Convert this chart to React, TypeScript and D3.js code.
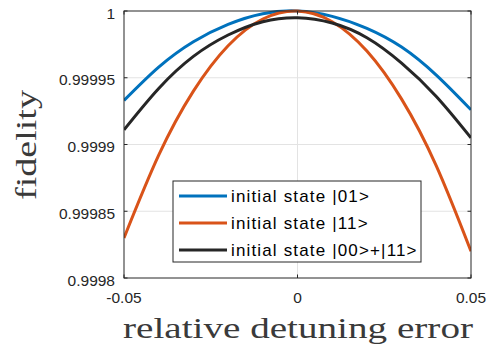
import React from 'react';
import * as d3 from 'd3';

// relative detuning error (x) and fidelity of each initial state
const detuning = [-0.05, -0.04, -0.03, -0.02, -0.01, 0, 0.01, 0.02, 0.03, 0.04, 0.05];
const fid01 = [0.999933, 0.999958, 0.999977, 0.99999, 0.999998, 1.0, 0.999996, 0.999987, 0.999973, 0.999952, 0.999926];
const fid11 = [0.99983, 0.999892, 0.99994, 0.999974, 0.999994, 1.0, 0.999992, 0.99997, 0.999934, 0.999884, 0.99982];
const fidBell = [0.999911, 0.999942, 0.999966, 0.999982, 0.999992, 0.999995, 0.999991, 0.99998, 0.999961, 0.999936, 0.999905];

const seriesNames = ['initial state |01>', 'initial state |11>', 'initial state |00>+|11>'];
const seriesColors = ['#0072BD', '#D95319', '#262626'];
const xTicks = [-0.05, 0, 0.05];
const xTickLabels = ['-0.05', '0', '0.05'];
const yTicks = [0.9998, 0.99985, 0.9999, 0.99995, 1];
const yTickLabels = ['0.9998', '0.99985', '0.9999', '0.99995', '1'];

const W = 499;
const H = 347;
const margin = { top: 11, right: 28, bottom: 69, left: 124 };

const App: React.FC = () => {
  const innerW = W - margin.left - margin.right;
  const innerH = H - margin.top - margin.bottom;

  const x = d3.scaleLinear().domain([-0.05, 0.05]).range([0, innerW]);
  const y = d3.scaleLinear().domain([0.9998, 1]).range([innerH, 0]);

  const line = d3
    .line<number>()
    .x((_, i) => x(detuning[i]))
    .y((d) => y(d))
    .curve(d3.curveNatural);

  const series = [fid01, fid11, fidBell];
  const axisColor = '#262626';
  const tickFont = 'Liberation Sans, Arial, sans-serif';

  return (
    <svg width={W} height={H} style={{ position: 'absolute', left: 0, top: 0, background: '#fff' }}>
      <g transform={`translate(${margin.left},${margin.top})`}>
        {/* grid */}
        {yTicks.slice(1, -1).map((t) => (
          <line key={'gy' + t} x1={0} x2={innerW} y1={y(t)} y2={y(t)} stroke="#e3e3e3" strokeWidth={1} />
        ))}
        {xTicks.slice(1, -1).map((t) => (
          <line key={'gx' + t} x1={x(t)} x2={x(t)} y1={0} y2={innerH} stroke="#e3e3e3" strokeWidth={1} />
        ))}

        <clipPath id="plotclip">
          <rect x={0} y={-3} width={innerW} height={innerH + 6} />
        </clipPath>
        <g clipPath="url(#plotclip)">
          {series.map((s, i) => (
            <path key={i} d={line(s) || ''} fill="none" stroke={seriesColors[i]} strokeWidth={3} />
          ))}
        </g>

        {/* box */}
        <rect x={0} y={0} width={innerW} height={innerH} fill="none" stroke={axisColor} strokeWidth={1} />

        {/* ticks */}
        {yTicks.map((t, i) => (
          <g key={'ty' + t}>
            <line x1={0} x2={3.5} y1={y(t)} y2={y(t)} stroke={axisColor} />
            <line x1={innerW - 3.5} x2={innerW} y1={y(t)} y2={y(t)} stroke={axisColor} />
            <text
              x={-9}
              y={y(t) + 2}
              textAnchor="end"
              dominantBaseline="central"
              fontFamily={tickFont}
              fontSize={15.5}
              fill={axisColor}
            >
              {yTickLabels[i]}
            </text>
          </g>
        ))}
        {xTicks.map((t, i) => (
          <g key={'tx' + t}>
            <line x1={x(t)} x2={x(t)} y1={innerH} y2={innerH - 3.5} stroke={axisColor} />
            <line x1={x(t)} x2={x(t)} y1={0} y2={3.5} stroke={axisColor} />
            <text x={x(t)} y={innerH + 25} textAnchor="middle" fontFamily={tickFont} fontSize={15.5} fill={axisColor}>
              {xTickLabels[i]}
            </text>
          </g>
        ))}

        {/* legend */}
        <g transform="translate(49,170)">
          <rect x={0} y={0} width={248} height={81} fill="#fff" stroke={axisColor} strokeWidth={1} />
          {seriesNames.map((name, i) => (
            <g key={name} transform={`translate(0,${15 + i * 27})`}>
              <line x1={6} x2={54} y1={0} y2={0} stroke={seriesColors[i]} strokeWidth={3} />
              <text
                x={58}
                y={0}
                dominantBaseline="central"
                fontFamily={tickFont}
                fontSize={17}
                letterSpacing={1.15}
                fill="#000"
              >
                {name}
              </text>
            </g>
          ))}
        </g>
      </g>

      {/* axis labels */}
      <text
        x={298}
        y={338}
        textAnchor="middle"
        fontFamily="Liberation Serif, Times New Roman, serif"
        fontSize={29}
        fill="#3a3a3a"
        textLength={350}
        lengthAdjust="spacingAndGlyphs"
      >
        relative detuning error
      </text>
      <text
        transform="translate(36,145) rotate(-90)"
        textAnchor="middle"
        fontFamily="Liberation Serif, Times New Roman, serif"
        fontSize={29}
        fill="#3a3a3a"
        textLength={110}
        lengthAdjust="spacingAndGlyphs"
      >
        fidelity
      </text>
    </svg>
  );
};

export default App;
